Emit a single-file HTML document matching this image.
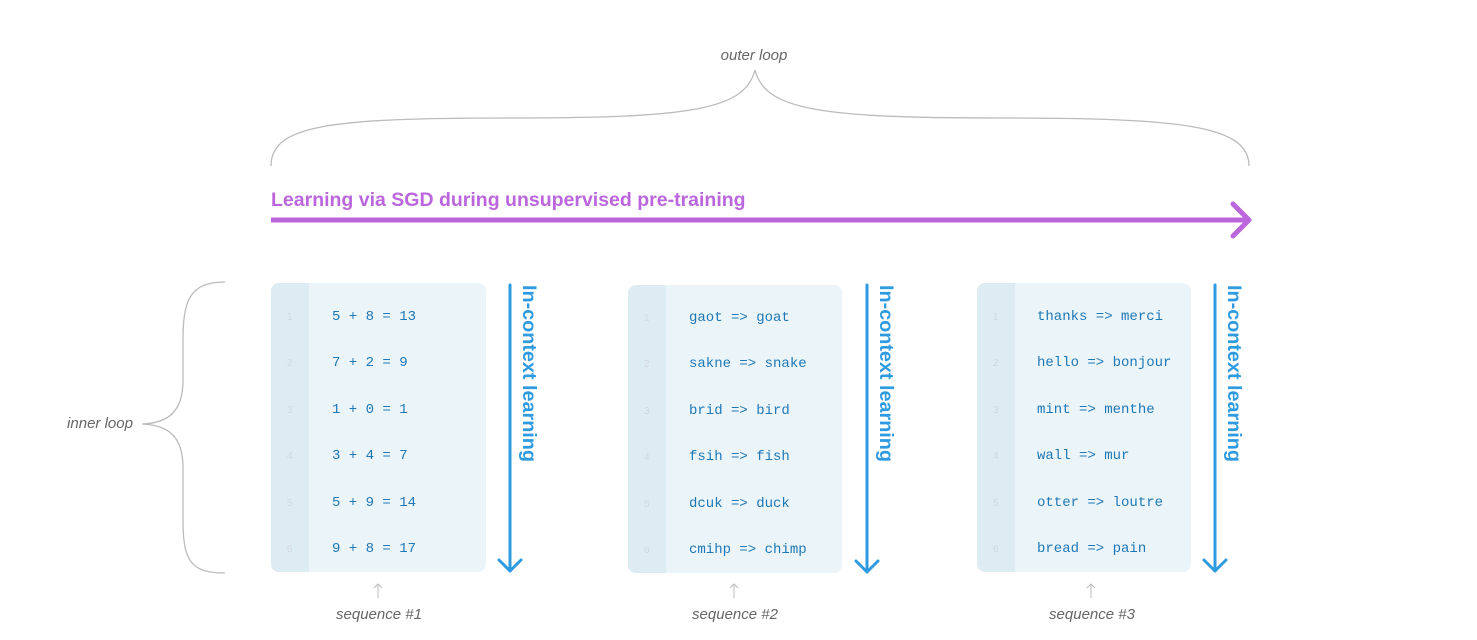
<!DOCTYPE html>
<html><head><meta charset="utf-8"><style>
html,body{margin:0;padding:0;background:#fff;width:1477px;height:640px;overflow:hidden}
</style></head><body>
<svg width="1477" height="640" xmlns="http://www.w3.org/2000/svg" font-family="Liberation Sans, sans-serif">
<text x="754" y="60" text-anchor="middle" font-size="15" font-style="italic" fill="#666">outer loop</text>
<path d="M271,166 C271,125 330,118 510,118 C690,118 745,110 755,70 C765,110 820,118 1000,118 C1180,118 1249,125 1249,166" fill="none" stroke="#bbb" stroke-width="1.3"/>
<text x="271" y="206" font-size="19.5" font-weight="bold" fill="#bb66dd">Learning via SGD during unsupervised pre-training</text>
<line x1="271" y1="220" x2="1248" y2="220" stroke="#bb66dd" stroke-width="5"/>
<path d="M1233,204 L1249,220 L1233,236" fill="none" stroke="#bb66dd" stroke-width="5" stroke-linecap="round" stroke-linejoin="round"/>
<text x="100" y="428" text-anchor="middle" font-size="15" font-style="italic" fill="#666">inner loop</text>
<path d="M225,282 C190,282 183,300 183,340 L183,380 C183,410 170,423 142,424 C170,425 183,438 183,468 L183,520 C183,560 190,573 225,573" fill="none" stroke="#bbb" stroke-width="1.3"/>
<g font-family="Liberation Mono, monospace" font-size="14">
<rect x="271" y="283" width="215" height="289" rx="8" fill="#ebf4f8"/>
<path d="M279,283 H309 V572 H279 A8,8 0 0 1 271,564 V291 A8,8 0 0 1 279,283Z" fill="#ddebf3"/>
<rect x="628" y="285" width="214" height="288" rx="8" fill="#ebf4f8"/>
<path d="M636,285 H666 V573 H636 A8,8 0 0 1 628,565 V293 A8,8 0 0 1 636,285Z" fill="#ddebf3"/>
<rect x="977" y="283" width="214" height="289" rx="8" fill="#ebf4f8"/>
<path d="M985,283 H1015 V572 H985 A8,8 0 0 1 977,564 V291 A8,8 0 0 1 985,283Z" fill="#ddebf3"/>
<g fill="#cfd9df" font-family="Liberation Sans, sans-serif" font-size="10">
<text x="287" y="320">1</text><text x="287" y="366">2</text><text x="287" y="413">3</text><text x="287" y="459">4</text><text x="287" y="506">5</text><text x="287" y="552">6</text>
<text x="644" y="321">1</text><text x="644" y="367">2</text><text x="644" y="414">3</text><text x="644" y="460">4</text><text x="644" y="507">5</text><text x="644" y="553">6</text>
<text x="993" y="320">1</text><text x="993" y="366">2</text><text x="993" y="413">3</text><text x="993" y="459">4</text><text x="993" y="506">5</text><text x="993" y="552">6</text>
</g>
<g fill="#1d78b8" xml:space="preserve">
<text x="332" y="320">5 + 8 = 13</text><text x="332" y="366">7 + 2 = 9</text><text x="332" y="413">1 + 0 = 1</text><text x="332" y="459">3 + 4 = 7</text><text x="332" y="506">5 + 9 = 14</text><text x="332" y="552">9 + 8 = 17</text>
<text x="689" y="321">gaot => goat</text><text x="689" y="367">sakne => snake</text><text x="689" y="414">brid => bird</text><text x="689" y="460">fsih => fish</text><text x="689" y="507">dcuk => duck</text><text x="689" y="553">cmihp => chimp</text>
<text x="1037" y="320">thanks => merci</text><text x="1037" y="366">hello => bonjour</text><text x="1037" y="413">mint => menthe</text><text x="1037" y="459">wall => mur</text><text x="1037" y="506">otter => loutre</text><text x="1037" y="552">bread => pain</text>
</g>
</g>
<g stroke="#2e9ae0" stroke-width="3" fill="none" stroke-linecap="round" stroke-linejoin="round">
<line x1="510" y1="285" x2="510" y2="571"/><path d="M499,560 L510,571 L521,560"/>
<line x1="867" y1="285" x2="867" y2="572"/><path d="M856,561 L867,572 L878,561"/>
<line x1="1215" y1="285" x2="1215" y2="571"/><path d="M1204,560 L1215,571 L1226,560"/>
</g>
<g fill="#2e9ae0" font-size="19.8" font-weight="bold">
<text transform="translate(523,285) rotate(90)">In-context learning</text>
<text transform="translate(880,285) rotate(90)">In-context learning</text>
<text transform="translate(1228,285) rotate(90)">In-context learning</text>
</g>
<g stroke="#bbb" stroke-width="1" fill="none">
<path d="M378,598 V584 M374,588 L378,584 L382,588"/>
<path d="M734,598 V584 M730,588 L734,584 L738,588"/>
<path d="M1091,598 V584 M1087,588 L1091,584 L1095,588"/>
</g>
<g font-size="15" font-style="italic" fill="#666" text-anchor="middle">
<text x="379" y="619">sequence #1</text>
<text x="735" y="619">sequence #2</text>
<text x="1092" y="619">sequence #3</text>
</g>
</svg>
</body></html>
